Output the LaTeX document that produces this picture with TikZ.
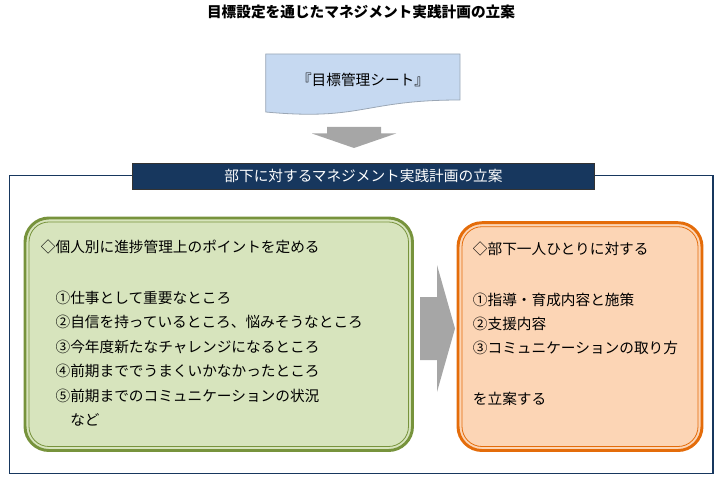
\documentclass[tikz,border=0pt]{standalone}
\usepackage{fontspec}
\newfontfamily\jp{Noto Sans CJK JP}
\definecolor{navy}{HTML}{17375E}
\definecolor{sheetblue}{HTML}{C6D9F1}
\definecolor{sheetgray}{HTML}{9BA7B5}
\definecolor{arrowgray}{HTML}{A6A6A6}
\definecolor{leafgreen}{HTML}{77933C}
\definecolor{leaffill}{HTML}{D7E4BD}
\definecolor{orangeline}{HTML}{E46C0A}
\definecolor{orangefill}{HTML}{FCD5B5}
\tikzset{
  jptext/.style={font=\jp\fontsize{11pt}{18.4pt}\selectfont},
  roundbox/.style={rounded corners=18pt, line width=2.2pt, inner sep=0pt},
  innerline/.style={rounded corners=15pt, line width=0.6pt, inner sep=0pt}
}
\begin{document}
\begin{tikzpicture}[x=0.75pt,y=-0.75pt]
\useasboundingbox (0,0) rectangle (720,499);

\node[font=\jp\bfseries\fontsize{11pt}{13pt}\selectfont] (title) at (361,12) {目標設定を通じたマネジメント実践計画の立案};

\draw[draw=sheetgray, fill=sheetblue, line width=0.6pt] (265.7,54) -- (460,54) -- (460,100) .. controls (362.8,100) and (362.8,121) .. (265.7,112) -- cycle;
\node[jptext] (sheet) at (363,80) {『目標管理シート』};
\fill[arrowgray] (327,127) -- (381,127) -- (381,133.5) -- (396,133.5) -- (354,148) -- (312,133.5) -- (327,133.5) -- cycle;

\draw[navy, line width=1pt] (9.5,175.5) rectangle (713,473.5);
\node[jptext, fill=navy, draw=black!80, line width=0.6pt, minimum width=347pt, minimum height=19.5pt, inner sep=0pt, text=white] (bar) at (363.5,176.3) {部下に対するマネジメント実践計画の立案};

\node[roundbox, draw=leafgreen, fill=leaffill, minimum width=290.6pt, minimum height=174.4pt] (green) at (218.75,334.25) {};
\node[innerline, draw=leafgreen, minimum width=284.6pt, minimum height=168.4pt] (greenin) at (green) {};
\node[jptext, anchor=north west, align=left, inner sep=0pt] (greentext) at (40.7,239) {◇個人別に進捗管理上のポイントを定める\\[19.85pt]
\hspace*{1em}①仕事として重要なところ\\
\hspace*{1em}②自信を持っているところ、悩みそうなところ\\
\hspace*{1em}③今年度新たなチャレンジになるところ\\
\hspace*{1em}④前期まででうまくいかなかったところ\\
\hspace*{1em}⑤前期までのコミュニケーションの状況\\
\hspace*{2em}など};

\fill[arrowgray] (420,297) -- (437,297) -- (437,265) -- (455,328.5) -- (437,392) -- (437,360) -- (420,360) -- cycle;

\node[roundbox, draw=orangeline, fill=orangefill, minimum width=183pt, minimum height=170.85pt] (orange) at (580,336.6) {};
\node[innerline, draw=orangeline, minimum width=177pt, minimum height=164.85pt] (orangein) at (orange) {};
\node[jptext, anchor=north west, align=left, inner sep=0pt, font=\jp\fontsize{11pt}{18pt}\selectfont] (orangetext) at (472.7,241) {◇部下一人ひとりに対する\\[20.25pt]
①指導・育成内容と施策\\
②支援内容\\
③コミュニケーションの取り方\\[20.25pt]
を立案する};
\end{tikzpicture}
\end{document}
